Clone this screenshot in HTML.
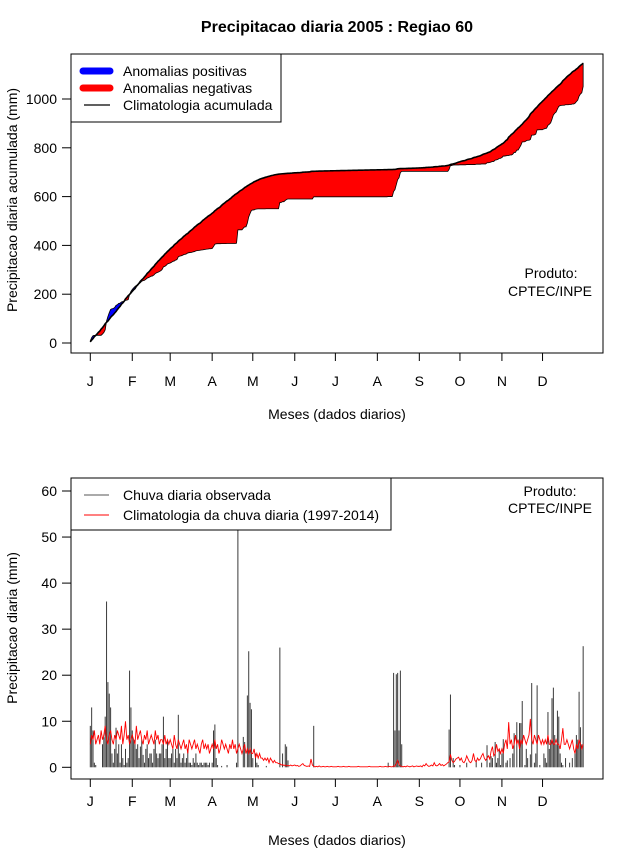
<!DOCTYPE html>
<html><head><meta charset="utf-8"><title>Precipitacao diaria 2005</title>
<style>
html,body{margin:0;padding:0;background:#fff;}
svg{display:block;font-family:"Liberation Sans",Arial,sans-serif;}
</style></head>
<body>
<svg id="chart" width="640" height="850" viewBox="0 0 640 850" xmlns="http://www.w3.org/2000/svg">
<rect x="0" y="0" width="640" height="850" fill="#fff"/>
<text x="337" y="32" font-size="16" font-weight="bold" text-anchor="middle">Precipitacao diaria 2005 : Regiao 60</text>

<g id="top">
  <g id="topFill"></g>
  <polyline id="climCumLine" fill="none" stroke="#000" stroke-width="1.6"/>
  <rect x="71" y="54" width="532" height="299" fill="none" stroke="#000" stroke-width="1"/>
  <g id="topYAxis" font-size="14"></g>
  <g id="topXAxis" font-size="14"></g>
  <text transform="translate(17,200) rotate(-90)" font-size="14" text-anchor="middle">Precipitacao diaria acumulada (mm)</text>
  <text x="337" y="419" font-size="14" text-anchor="middle">Meses (dados diarios)</text>
  <text x="551" y="278" font-size="14" text-anchor="middle">Produto:</text>
  <text x="550" y="296" font-size="14" text-anchor="middle">CPTEC/INPE</text>
  <g>
    <rect x="71" y="54" width="210" height="68" fill="#fff" stroke="#000" stroke-width="1"/>
    <line x1="83" y1="71" x2="110" y2="71" stroke="#0000ff" stroke-width="7" stroke-linecap="round"/>
    <text x="123" y="76" font-size="14">Anomalias positivas</text>
    <line x1="83" y1="88" x2="110" y2="88" stroke="#ff0000" stroke-width="7" stroke-linecap="round"/>
    <text x="123" y="93" font-size="14">Anomalias negativas</text>
    <line x1="84" y1="105" x2="110" y2="105" stroke="#000" stroke-width="1.2"/>
    <text x="123" y="110" font-size="14">Climatologia acumulada</text>
  </g>
</g>

<g id="bottom">
  <g id="bars"></g>
  <polyline id="climDailyLine" fill="none" stroke="#ff0000" stroke-width="0.9"/>
  <rect x="71" y="478" width="532" height="301" fill="none" stroke="#000" stroke-width="1"/>
  <g id="botYAxis" font-size="14"></g>
  <g id="botXAxis" font-size="14"></g>
  <text transform="translate(17,628) rotate(-90)" font-size="14" text-anchor="middle">Precipitacao diaria (mm)</text>
  <text x="337" y="845" font-size="14" text-anchor="middle">Meses (dados diarios)</text>
  <text x="550" y="496" font-size="14" text-anchor="middle">Produto:</text>
  <text x="550" y="513" font-size="14" text-anchor="middle">CPTEC/INPE</text>
  <g>
    <rect x="71" y="478" width="320" height="52" fill="#fff" stroke="#000" stroke-width="1"/>
    <line x1="84" y1="495" x2="109" y2="495" stroke="#555" stroke-width="1"/>
    <text x="123" y="500" font-size="14">Chuva diaria observada</text>
    <line x1="84" y1="515" x2="109" y2="515" stroke="#ff0000" stroke-width="1"/>
    <text x="123" y="520" font-size="14">Climatologia da chuva diaria (1997-2014)</text>
  </g>
</g>
</svg>
<script>
// ---- data: observed daily rainfall 2005 (mm), by month ----
const obsJan=[9,13,8,1,0.5,0,0,0,0,5,6.5,11,36,18.5,16,13,3,1,4,8.6,3,5,1,5,2,0.5,4,1,2,21,13];
const obsFeb=[8,6,6,4,5,2,4.5,6,2.7,1,4,5,2,3,3,1,4,6,3,2,3,3,5,11,2,4,6,2];
const obsMar=[2,3,4,1,4,2,11.4,3,1,2,3,1,2,4,1,1,0.5,2,1,3,1,0.5,1,1,0.5,1,1,1,0.5,1,0];
const obsApr=[1,8,9.3,2,0.5,0,0,0.3,0,0,0,0.5,0,0,0,0,0,0,1,55,0,0,0,6.6,5.5,0,15.6,25.2,14,12.6];
const obsMay=[2,0,3,1,0.5,0,0,0,0,0,0.3,0,0,0,0,0,0,0,0,0,26,0,3,0,5,4.5,1.5,0,0,0,0];
const obsJun=[0,0,0,0,0,0,0,0,0,0,0,0,0,0,9,0,0,0,0,0,0,0,0,0,0,0,0,0,0,0];
const obsJul=[0,0,0,0,0,0,0,0,0,0,0,0,0,0,0,0,0,0,0,0,0,0,0,0,0,0,0,0,0,0,0];
const obsAug=[0,0,0,0,0,0,0,0,1,0,0,0,20.5,8,20.2,20.5,8,21,5,0,0,0,0,0,0,0,0,0,0,0,0];
const obsSep=[0,0,0,0,0,0,0,0,0,0,0,0,0,0,0,0,0,0,0,0,0,0,8.2,15.8,0,2,0.5,0,0,0];
const obsOct=[0.5,0,0,0,0,1,0,0,0,0,0,0,1.5,0,0,0,1,0,0,0,4.8,0,1,2.4,2,0,5.5,1,2,4,0.5];
const obsNov=[3,6.1,0,1,1.5,0,2,0,3,7.4,0,9.8,0,9.6,9.6,14.4,0,0.5,4,2,0,2.8,18.3,0,1,3,17.8,0,0.5,0];
const obsDec=[0,3,2,1,12,4,6,15,17.3,7,5,12.3,11,3,1,0.5,0,2,0,0,1,0,2,0,3,7,6,16.4,8.7,5,26.3];
// ---- data: climatological daily rainfall 1997-2014 (mm), by month ----
const climJan=[5,7,6,8,5,6,7,5,8,6,7,9,6,5,7,8,6,5,7,6,8,7,6,9,5,7,10,6,7,5,6];
const climFeb=[7,6,5,9,6,7,8,6,5,7,6,8,5,6,7,6,5,8,6,7,5,6,6,5,7,5,6,5];
const climMar=[6,5,4,7,5,4,6,5,4,5,6,4,5,3,6,5,4,5,6,4,5,4,3,5,6,4,5,4,5,3,4];
const climApr=[5,4,6,4,5,3,4,6,5,4,5,4,3,5,4,6,4,5,3,4,5,4,3,4,5,3,4,3,4,3];
const climMay=[3,4,2,3,2,3,2,2,1.5,2,1.5,2,1,2,1.5,1,1.5,1,1,0.8,0.8,0.5,0.6,0.4,0.5,0.3,0.4,0.3,0.5,0.3,0.4];
const climJun=[0.5,0.3,0.4,0.2,0.3,0.6,0.8,0.4,0.3,0.2,0.3,0.2,1.8,0.5,0.2,0.1,0.2,0.1,0.3,0.1,0.1,0.2,0.1,0.1,0.2,0.1,0.1,0.2,0.1,0.1];
const climJul=[0.1,0.1,0.2,0.1,0.1,0.1,0.2,0.1,0.1,0.1,0.2,0.1,0.1,0.1,0.1,0.1,0.1,0.2,0.1,0.1,0.1,0.1,0.1,0.1,0.1,0.2,0.1,0.1,0.1,0.1,0.1];
const climAug=[0.1,0.1,0.2,0.1,0.1,0.1,0.2,0.1,0.1,0.2,0.1,0.1,0.3,0.2,0.8,1.5,0.6,0.3,0.2,0.1,0.2,0.1,0.3,0.2,0.1,0.2,0.3,0.1,0.2,0.3,0.2];
const climSep=[0.2,0.3,0.1,0.5,0.3,0.8,0.4,0.2,0.3,0.5,0.3,1,0.4,0.3,0.5,0.8,0.4,0.6,0.3,0.5,0.7,1,1.2,2.8,1.5,1,1.3,1.8,2,2.2];
const climOct=[1.5,2,1.2,1,1.5,2.5,1.8,1.2,1,1.5,3,1.5,1.2,2,1.5,1.8,2.5,3,2,1.5,2,2.5,1.8,3.5,4.5,2.5,3,5,3.5,4,3];
const climNov=[4,3,5,6,4,9.8,5,6,4,5,7,5,6,4,6,5,7,6,5,6,7,10.5,6,5,7,6,5,7,6,5];
const climDec=[6,5,6,5,7,5,5,6,5,5,6,5,5,4,6,8.5,5,5,6,5,4,5,6,4,3,5,4,6,5,4,5];
// ---- axis labels ----
const monthLabels=["J","F","M","A","M","J","J","A","S","O","N","D"];
const monthStartDays=[1,32,60,91,121,152,182,213,244,274,305,335];
const topYTicks=[0,200,400,600,800,1000];
const botYTicks=[0,10,20,30,40,50,60];

const obs=[].concat(obsJan,obsFeb,obsMar,obsApr,obsMay,obsJun,obsJul,obsAug,obsSep,obsOct,obsNov,obsDec);
const clim=[].concat(climJan,climFeb,climMar,climApr,climMay,climJun,climJul,climAug,climSep,climOct,climNov,climDec);

const NS="http://www.w3.org/2000/svg";
function xDay(d){return 90.3+(d-1)*1.354;}
function yTop(v){return 343-v*0.244;}
function yBot(v){return 767.3-v*4.605;}
function mk(tag,attrs,parent){const e=document.createElementNS(NS,tag);for(const k in attrs)e.setAttribute(k,attrs[k]);parent.appendChild(e);return e;}

const obsCum=[],climCum=[];
let so=0,sc=0;
for(let i=0;i<obs.length;i++){so+=obs[i];sc+=clim[i];obsCum.push(so);climCum.push(sc);}

const fillG=document.getElementById('topFill');
function flush(run,sign){
  if(run.length<2)return;
  let pts=run.map(p=>p.x.toFixed(2)+','+yTop(p.o).toFixed(2));
  for(let k=run.length-1;k>=0;k--)pts.push(run[k].x.toFixed(2)+','+yTop(run[k].c).toFixed(2));
  const p=mk('polygon',{points:pts.join(' '),fill:sign>0?'#0000ff':'#ff0000',stroke:'#000','stroke-width':'0.8','stroke-linejoin':'round'},fillG);
  
  
}
let run=[],sign=0;
for(let i=0;i<obsCum.length;i++){
  const d=obsCum[i]-climCum[i];
  const s=d>0?1:(d<0?-1:0);
  const pt={x:xDay(i+1),o:obsCum[i],c:climCum[i]};
  if(sign!==0&&s!==0&&s!==sign){
    const pd=obsCum[i-1]-climCum[i-1];
    const t=pd/(pd-d);
    const xc=xDay(i)+t*1.354;
    const vc=climCum[i-1]+t*(climCum[i]-climCum[i-1]);
    const cp={x:xc,o:vc,c:vc};
    run.push(cp);flush(run,sign);run=[cp];
  }
  if(s!==0)sign=s;
  run.push(pt);
}
flush(run,sign||-1);

document.getElementById('climCumLine').setAttribute('points',climCum.map((v,i)=>xDay(i+1).toFixed(2)+','+yTop(v).toFixed(2)).join(' '));

const barG=document.getElementById('bars');
obs.forEach((v,i)=>{
  if(v<=0)return;
  const b=mk('line',{x1:xDay(i+1).toFixed(2),x2:xDay(i+1).toFixed(2),y1:yBot(0),y2:Math.max(yBot(v),479).toFixed(2),stroke:'#3a3a3a','stroke-width':'1'},barG);
  
  
});
document.getElementById('climDailyLine').setAttribute('points',clim.map((v,i)=>xDay(i+1).toFixed(2)+','+yBot(v).toFixed(2)).join(' '));

function yAxis(gid,ticks,yf){
  const g=document.getElementById(gid);
  ticks.forEach(t=>{
    const l=mk('line',{x1:62,x2:71,y1:yf(t),y2:yf(t),stroke:'#000','stroke-width':'1'},g);
    
    
    const tx=mk('text',{x:57,y:yf(t)+5,'text-anchor':'end'},g);
    tx.textContent=t;
    
    
  });
}
function xAxis(gid,y0,ly){
  const g=document.getElementById(gid);
  monthStartDays.forEach((d,i)=>{
    const x=xDay(d);
    const l=mk('line',{x1:x,x2:x,y1:y0,y2:y0+8,stroke:'#000','stroke-width':'1'},g);
    
    
    const tx=mk('text',{x:x,y:ly,'text-anchor':'middle'},g);
    tx.textContent=monthLabels[i];
    
    
  });
}
yAxis('topYAxis',topYTicks,yTop);
yAxis('botYAxis',botYTicks,yBot);
xAxis('topXAxis',353,386);
xAxis('botXAxis',779,806);
</script>
</body></html>
